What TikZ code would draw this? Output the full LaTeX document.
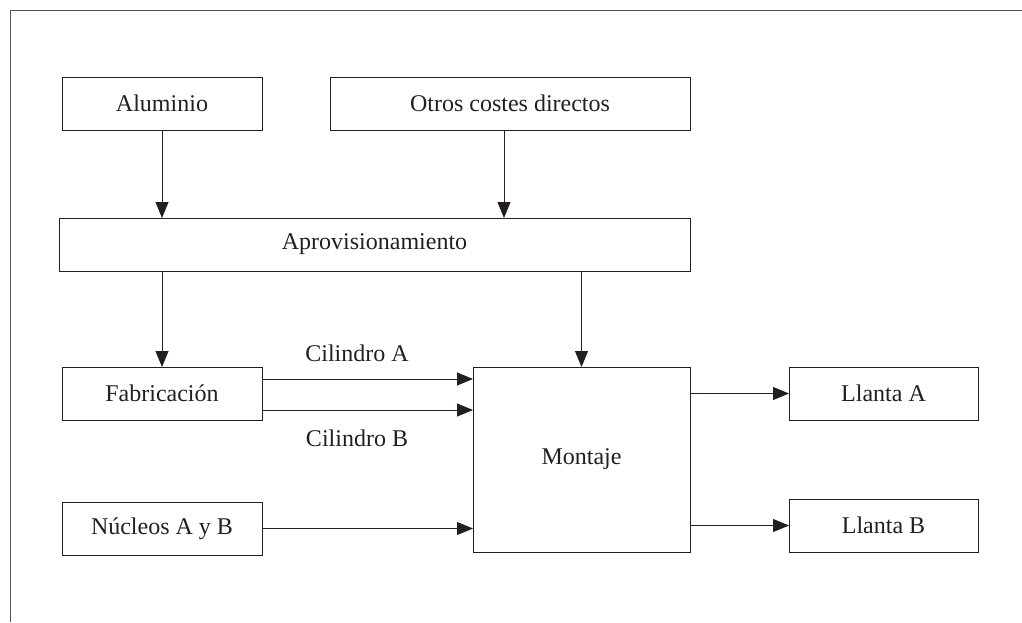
\documentclass[tikz,border=0pt]{standalone}
\usepackage{fontspec}
\setmainfont{Liberation Serif}
\usetikzlibrary{arrows.meta}
\definecolor{ink}{HTML}{231F20}
\definecolor{framecol}{HTML}{555555}
\tikzset{
  box/.style={draw=ink, line width=0.9pt, rectangle, inner sep=0pt, outer sep=0pt,
    font=\fontsize{24}{28}\selectfont, text=ink},
  lbl/.style={inner sep=0pt, font=\fontsize{24}{28}\selectfont, text=ink},
  conn/.style={draw=ink, line width=0.9pt, -{Triangle[length=16pt,width=13pt]}},
}
\begin{document}
\begin{tikzpicture}[x=1pt,y=-1pt]
\useasboundingbox (0,0) rectangle (1022,622);
\draw[framecol, line width=1pt] (10,622) -- (10,10) -- (1022,10);
\node[box, minimum width=200pt, minimum height=53pt] (alu) at (162,103.5) {Aluminio};
\node[box, minimum width=360pt, minimum height=53pt] (otros) at (510,103.5) {Otros costes directos};
\node[box, minimum width=631pt, minimum height=53pt] (aprov) at (374.5,244.5) {Aprovisionamiento};
\node[box, minimum width=200pt, minimum height=53pt] (fab) at (162,393.5) {Fabricación};
\node[box, minimum width=200pt, minimum height=53pt] (nuc) at (162,528.5) {Núcleos A y B};
\node[box, minimum width=217pt, minimum height=185pt] (mon) at (581.5,459.5) {Montaje};
\node[box, minimum width=189pt, minimum height=53pt] (lla) at (883.5,393.5) {Llanta A};
\node[box, minimum width=189pt, minimum height=53pt] (llb) at (883.5,525.5) {Llanta B};
\node[lbl] (cila) at (357,353) {Cilindro A};
\node[lbl] (cilb) at (357,438) {Cilindro B};
\coordinate (ot) at ([xshift=-6pt]otros.south);
\coordinate (fa) at ([yshift=14.5pt]fab.east);
\coordinate (fb) at ([yshift=-16.5pt]fab.east);
\draw[conn] (alu.south) -- (alu.south |- aprov.north);
\draw[conn] (ot) -- (ot |- aprov.north);
\draw[conn] (fab.north |- aprov.south) -- (fab.north);
\draw[conn] (mon.north |- aprov.south) -- (mon.north);
\draw[conn] (fa) -- (fa -| mon.west);
\draw[conn] (fb) -- (fb -| mon.west);
\draw[conn] (nuc.east) -- (nuc.east -| mon.west);
\draw[conn] (lla.west -| mon.east) -- (lla.west);
\draw[conn] (llb.west -| mon.east) -- (llb.west);
\end{tikzpicture}
\end{document}
